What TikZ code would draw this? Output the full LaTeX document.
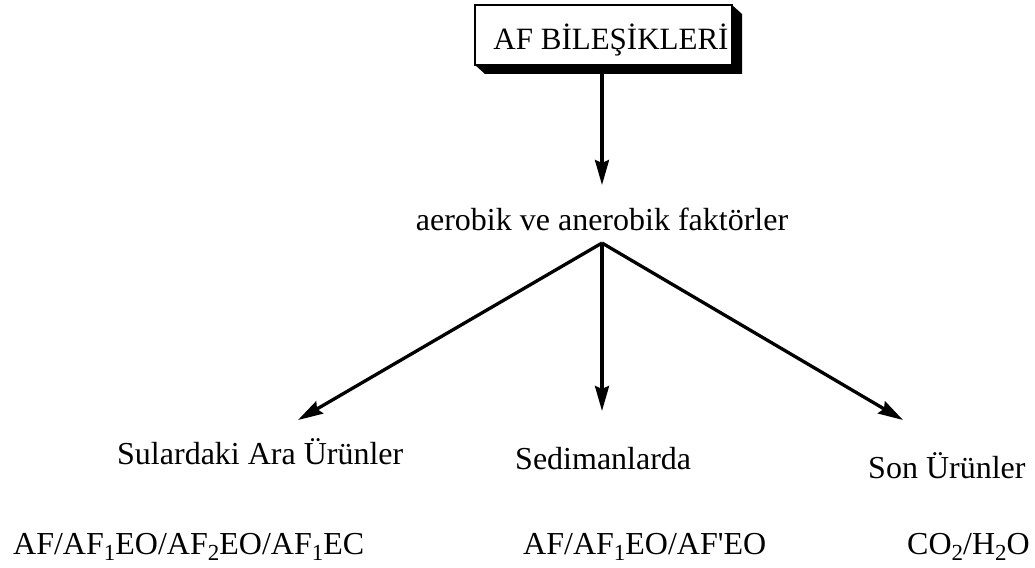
\documentclass[tikz,border=0pt]{standalone}
\usepackage{fontspec}
\setmainfont{Liberation Serif}
\usetikzlibrary{arrows.meta}
\newcommand\sbs[1]{\raisebox{-6pt}{\fontsize{23}{23}\selectfont #1}}
\tikzset{
  lbl/.style={inner sep=0pt, anchor=base west, font=\fontsize{32}{36}\selectfont},
  conn/.style={line width=3.3pt, -{Stealth[length=25pt,width=14pt,inset=3pt]}},
}
\begin{document}
\begin{tikzpicture}[x=1pt,y=-1pt]
\useasboundingbox (0,0) rectangle (1035,567);
% title box with its solid black extrusion
\fill[black] (732,5) -- (742,14) -- (742,74) -- (485,74) -- (475,65) -- (732,65) -- cycle;
\node[draw, line width=2pt, fill=white, minimum width=257pt, minimum height=60pt, inner sep=0pt] (top) at (603.5,35) {};
\node[inner sep=0pt, anchor=base, font=\fontsize{31}{36}\selectfont] (toptxt) at (611,50) {AF BİLEŞİKLERİ};
\coordinate (topout) at (602,74);
\node[lbl, anchor=base] (fak) at (602,230) {aerobik ve anerobik faktörler};
\draw[conn] (topout) -- (602,185) coordinate (fakin);
\coordinate (apex) at (602,243);
% second row
\node[lbl] (ara) at (117,464) {Sulardaki Ara Ürünler};
\node[lbl] (sed) at (515,469) {Sedimanlarda};
\node[lbl] (son) at (868,478) {Son Ürünler};
\coordinate (araIn) at (298,420);
\coordinate (sedIn) at (602,411);
\coordinate (sonIn) at (903,420);
\draw[conn] (apex) -- (araIn);
\draw[conn] (apex) -- (sedIn);
\draw[conn] (apex) -- (sonIn);
% bottom row
\node[lbl] (araF) at (13,554) {AF/AF\sbs{1}EO/AF\sbs{2}EO/AF\sbs{1}EC};
\node[lbl] (sedF) at (523,554) {AF/AF\sbs{1}EO/AF\textquotesingle EO};
\node[lbl] (sonF) at (907,554) {CO\sbs{2}/H\sbs{2}O};
\end{tikzpicture}
\end{document}
